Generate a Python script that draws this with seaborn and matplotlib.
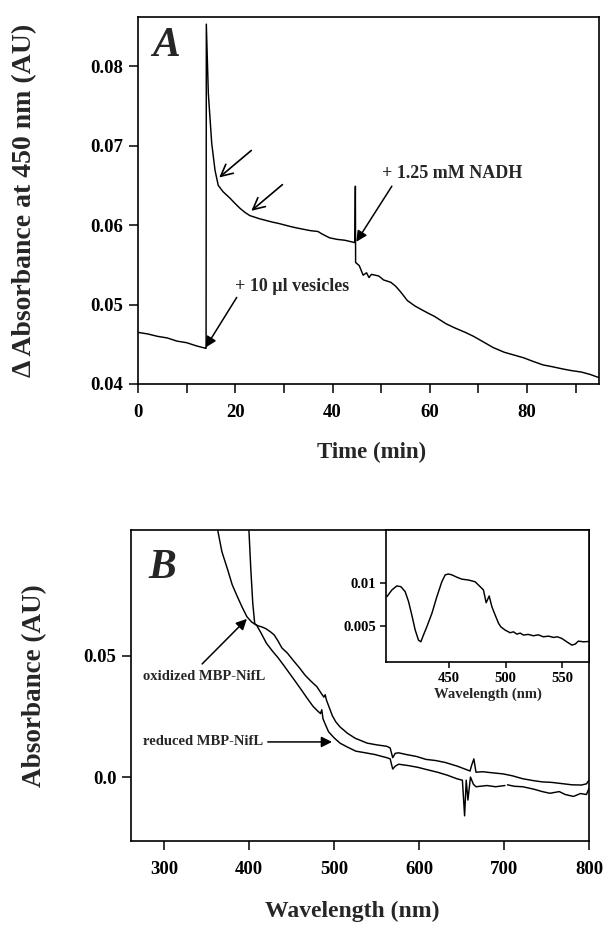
import numpy as np
import pandas as pd
import matplotlib
matplotlib.use("Agg")
import matplotlib.pyplot as plt
import seaborn as sns

# ---------------- data: panel A ----------------
time_min = [0, 2, 4, 6, 8, 10, 12, 13.9, 14.0, 14.05, 14.46, 15.16, 15.84, 16.5, 17.5,
            18.9, 20, 21, 22, 23, 25, 27.5, 29, 31.5, 33, 35.5, 37, 37.8, 39.4, 41,
            42.5, 44.6, 44.7, 44.75, 45.5, 46.3, 47, 47.5, 48, 49.5, 50.5, 52, 53, 54,
            55.4, 57, 59.4, 61, 63.3, 65, 67.3, 69, 71.3, 73, 75.3, 77, 79.3, 81, 83.3,
            85, 87.3, 89, 91.2, 93, 94.8]
delta_abs = [0.0465, 0.0463, 0.0460, 0.0458, 0.0454, 0.0452, 0.0448, 0.0445, 0.0445,
             0.0853, 0.0766, 0.0703, 0.0669, 0.0650, 0.0642, 0.0634, 0.0627, 0.0621,
             0.0616, 0.0612, 0.0608, 0.0604, 0.0602, 0.0598, 0.0596, 0.0593, 0.0592,
             0.0589, 0.0584, 0.0582, 0.0581, 0.0578, 0.0649, 0.0553, 0.0549, 0.0537,
             0.0540, 0.0534, 0.0538, 0.0536, 0.0531, 0.0528, 0.0523, 0.0516, 0.0505,
             0.0498, 0.0490, 0.0485, 0.0476, 0.0471, 0.0465, 0.0460, 0.0452, 0.0446,
             0.0440, 0.0437, 0.0433, 0.0429, 0.0424, 0.0422, 0.0419, 0.0417, 0.0415,
             0.0412, 0.0408]

# ---------------- data: panel B ----------------
ox_nm = [399.5, 402, 404.3, 406.6, 410, 415.7, 420, 425, 429.5, 434, 438.6, 445, 452.3,
         459, 466, 473, 479.8, 485, 488, 489.5, 491, 494, 498, 502, 507, 516, 525, 539,
         550, 562, 566, 569, 572, 576, 585, 597, 608, 620, 631, 645, 654, 660, 662,
         664.5, 667, 675, 685, 699, 710, 722, 735, 745, 756, 768, 780, 791, 797, 800]
ox_abs = [0.104, 0.0858, 0.0718, 0.0633, 0.0625, 0.0619, 0.0612, 0.0600, 0.0587,
          0.0562, 0.0533, 0.0512, 0.0480, 0.0452, 0.0420, 0.0395, 0.0373, 0.0345,
          0.0330, 0.0340, 0.0318, 0.0290, 0.0253, 0.0228, 0.0207, 0.0180, 0.0160,
          0.0140, 0.0133, 0.0127, 0.0120, 0.0080, 0.0098, 0.0100, 0.0093, 0.0085,
          0.0073, 0.0068, 0.0060, 0.0045, 0.0033, 0.0025, 0.0050, 0.0075, 0.0020,
          0.0022, 0.0018, 0.0013, 0.0005, -0.0007, -0.0015, -0.0020, -0.0022,
          -0.0027, -0.0032, -0.0033, -0.0028, -0.0013]

red_nm_a = [362, 363, 368, 374.6, 380, 386, 392, 397.4, 403, 409, 414, 420.3, 427, 434,
            441, 447.8, 455, 461.5, 468, 475, 480, 484, 485.5, 487, 490, 493.5, 500,
            507, 515, 525.5, 537, 548, 562, 566, 569, 572, 576, 588, 598.7, 610, 621.6,
            633, 644.5, 651, 653.6, 655.5, 657.5, 660.5, 664, 667, 680, 690, 701]
red_abs_a = [0.104, 0.102, 0.093, 0.0858, 0.0795, 0.0746, 0.0700, 0.0662, 0.0640,
             0.0626, 0.0595, 0.0553, 0.0522, 0.0493, 0.0460, 0.0427, 0.0392, 0.0360,
             0.0327, 0.0293, 0.0275, 0.0262, 0.0278, 0.0240, 0.0215, 0.0187, 0.0162,
             0.0140, 0.0125, 0.0107, 0.0100, 0.0093, 0.0080, 0.0075, 0.0033, 0.0045,
             0.0053, 0.0047, 0.0040, 0.0030, 0.0020, 0.0008, -0.0007, -0.0013, -0.0160,
             -0.0013, -0.0095, 0.0000, -0.0030, -0.0040, -0.0035, -0.0040, -0.0035]
red_nm_b = [704, 712, 722, 735, 745, 754, 765, 772, 781.7, 790, 797, 800]
red_abs_b = [-0.0032, -0.0038, -0.0040, -0.0050, -0.0060, -0.0067, -0.0060, -0.0072,
             -0.0080, -0.0068, -0.0072, -0.0047]

# ---------------- data: inset (difference spectrum) ----------------
inset_nm = [394.8, 399.2, 403.6, 407.2, 411, 414, 416.9, 419.9, 422.8, 424.9, 427.2,
            430.2, 434.7, 439.1, 443.5, 446.5, 449.4, 452.4, 456.8, 461.3, 467.2, 473,
            477.5, 480.4, 482.8, 485.5, 487.9, 490.8, 493.8, 495.8, 499.6, 504.1, 507,
            510, 513, 515.9, 520, 524.8, 529, 533.6, 538, 542.5, 546, 549.9, 554.3,
            558.8, 561.7, 564.6, 569.1, 574.1]
inset_abs = [0.00837, 0.00915, 0.00962, 0.00953, 0.00895, 0.0078, 0.00624, 0.0045,
             0.00334, 0.00314, 0.00392, 0.00488, 0.00644, 0.00837, 0.0101, 0.0109,
             0.0110, 0.0109, 0.01063, 0.0104, 0.0103, 0.0101, 0.00953, 0.00915,
             0.00767, 0.00845, 0.0072, 0.00624, 0.00528, 0.00488, 0.0045, 0.00419,
             0.00430, 0.00403, 0.00415, 0.00392, 0.00400, 0.00384, 0.00395, 0.00372,
             0.00380, 0.00365, 0.00372, 0.00353, 0.00314, 0.00276, 0.00287, 0.00322,
             0.00314, 0.00318]

a_xticks = [0, 10, 20, 30, 40, 50, 60, 70, 80, 90]
a_xticklabels = ["0", "", "20", "", "40", "", "60", "", "80", ""]
a_yticks = [0.04, 0.05, 0.06, 0.07, 0.08]
a_yticklabels = ["0.04", "0.05", "0.06", "0.07", "0.08"]
b_xticks = [300, 400, 500, 600, 700, 800]
b_yticks = [0.0, 0.05]
b_yticklabels = ["0.0", "0.05"]
in_xticks = [450, 500, 550]
in_yticks = [0.005, 0.01]
in_yticklabels = ["0.005", "0.01"]

# ---------------- style ----------------
sns.set_theme(style="ticks")
plt.rcParams["font.family"] = ["Liberation Serif", "DejaVu Serif"]
plt.rcParams["font.weight"] = "bold"
plt.rcParams["axes.linewidth"] = 1.2
plt.rcParams["xtick.major.width"] = 1.1
plt.rcParams["ytick.major.width"] = 1.1
plt.rcParams["xtick.major.size"] = 6.5
plt.rcParams["ytick.major.size"] = 6.5
plt.rcParams["xtick.color"] = "black"
plt.rcParams["ytick.color"] = "black"
plt.rcParams["axes.edgecolor"] = "black"

W, H = 608, 927
fig = plt.figure(figsize=(W / 100, H / 100), dpi=100)

def rect(l, t, r, b):
    return [l / W, (H - b) / H, (r - l) / W, (b - t) / H]

lw = 1.05
# ---------------- panel A ----------------
axA = fig.add_axes(rect(138, 17, 599, 384))
dfA = pd.DataFrame({"t": time_min, "a": delta_abs})
sns.lineplot(data=dfA, x="t", y="a", ax=axA, color="black", lw=lw,
             estimator=None, sort=False)
axA.set_xlim(0, 94.8)
axA.set_ylim(0.04, 0.0862)
axA.set_xticks(a_xticks)
axA.set_xticklabels(a_xticklabels)
axA.set_yticks(a_yticks)
axA.set_yticklabels(a_yticklabels)
axA.tick_params(labelsize=13.5, pad=4)
axA.tick_params(axis="x", pad=8)
axA.set_xlabel("")
axA.set_ylabel("")
for lab in axA.get_xticklabels() + axA.get_yticklabels():
    lab.set_fontweight("bold")

axA.text(5.8, 0.0825, "A", fontsize=30, fontweight="bold", fontstyle="italic",
         ha="center", va="center")
axA.annotate("", xy=(13.9, 0.0446), xytext=(20.3, 0.0509),
             arrowprops=dict(arrowstyle="-|>", color="black", lw=1.1,
                             mutation_scale=16, shrinkA=0, shrinkB=0))
axA.text(20.0, 0.0523, "+ 10 µl vesicles", fontsize=13, fontweight="bold",
         ha="left", va="center")
axA.annotate("", xy=(44.9, 0.0579), xytext=(52.2, 0.0649),
             arrowprops=dict(arrowstyle="-|>", color="black", lw=1.1,
                             mutation_scale=16, shrinkA=0, shrinkB=0))
axA.text(50.2, 0.0665, "+ 1.25 mM NADH", fontsize=13, fontweight="bold",
         ha="left", va="center")
axA.annotate("", xy=(16.7, 0.0660), xytext=(23.3, 0.0694),
             arrowprops=dict(arrowstyle="->,head_length=0.7,head_width=0.35",
                             color="black", lw=1.2, shrinkA=0, shrinkB=0))
axA.annotate("", xy=(23.3, 0.0618), xytext=(29.7, 0.0651),
             arrowprops=dict(arrowstyle="->,head_length=0.7,head_width=0.35",
                             color="black", lw=1.2, shrinkA=0, shrinkB=0))

fig.text(25 / W, 1 - 200 / H, "Δ Absorbance at 450 nm (AU)", rotation=90,
         fontsize=20, fontweight="bold", ha="center", va="center")
fig.text(372 / W, 1 - 452 / H, "Time (min)", fontsize=16.5, fontweight="bold",
         ha="center", va="center")

# ---------------- panel B ----------------
axB = fig.add_axes(rect(131, 530, 589, 841))
dfox = pd.DataFrame({"nm": ox_nm, "a": ox_abs})
dfra = pd.DataFrame({"nm": red_nm_a, "a": red_abs_a})
dfrb = pd.DataFrame({"nm": red_nm_b, "a": red_abs_b})
for d in (dfox, dfra, dfrb):
    sns.lineplot(data=d, x="nm", y="a", ax=axB, color="black", lw=lw,
                 estimator=None, sort=False)
axB.set_xlim(261, 800)
axB.set_ylim(-0.0264, 0.102)
axB.set_xticks(b_xticks)
axB.set_yticks(b_yticks)
axB.set_yticklabels(b_yticklabels)
axB.tick_params(labelsize=13.5, pad=4)
axB.tick_params(axis="x", pad=8)
axB.set_xlabel("")
axB.set_ylabel("")
for lab in axB.get_xticklabels() + axB.get_yticklabels():
    lab.set_fontweight("bold")

axB.text(297.6, 0.0864, "B", fontsize=30, fontweight="bold", fontstyle="italic",
         ha="center", va="center")
axB.annotate("", xy=(397.4, 0.0653), xytext=(344.7, 0.0467),
             arrowprops=dict(arrowstyle="-|>", color="black", lw=1.1,
                             mutation_scale=16, shrinkA=0, shrinkB=0))
axB.text(275.5, 0.0415, "oxidized MBP-NifL", fontsize=10.5, fontweight="bold",
         ha="left", va="center")
axB.annotate("", xy=(497.6, 0.0145), xytext=(422, 0.0145),
             arrowprops=dict(arrowstyle="-|>", color="black", lw=1.1,
                             mutation_scale=16, shrinkA=0, shrinkB=0))
axB.text(275.5, 0.0145, "reduced MBP-NifL", fontsize=10.5, fontweight="bold",
         ha="left", va="center")

fig.text(35 / W, 1 - 686 / H, "Absorbance (AU)", rotation=90,
         fontsize=19.5, fontweight="bold", ha="center", va="center")
fig.text(352 / W, 1 - 911 / H, "Wavelength (nm)", fontsize=17, fontweight="bold",
         ha="center", va="center")

# ---------------- inset ----------------
axI = fig.add_axes(rect(386, 530, 589, 662))
dfi = pd.DataFrame({"nm": inset_nm, "a": inset_abs})
sns.lineplot(data=dfi, x="nm", y="a", ax=axI, color="black", lw=lw,
             estimator=None, sort=False)
axI.set_xlim(394, 574)
axI.set_ylim(0.0008, 0.0161)
axI.set_xticks(in_xticks)
axI.set_yticks(in_yticks)
axI.set_yticklabels(in_yticklabels)
axI.tick_params(labelsize=10.5, pad=3, length=4)
axI.set_xlabel("Wavelength (nm)", fontsize=10.5, fontweight="bold", labelpad=2)
axI.set_ylabel("")
for lab in axI.get_xticklabels() + axI.get_yticklabels():
    lab.set_fontweight("bold")

fig.savefig("out.png", dpi=100)
